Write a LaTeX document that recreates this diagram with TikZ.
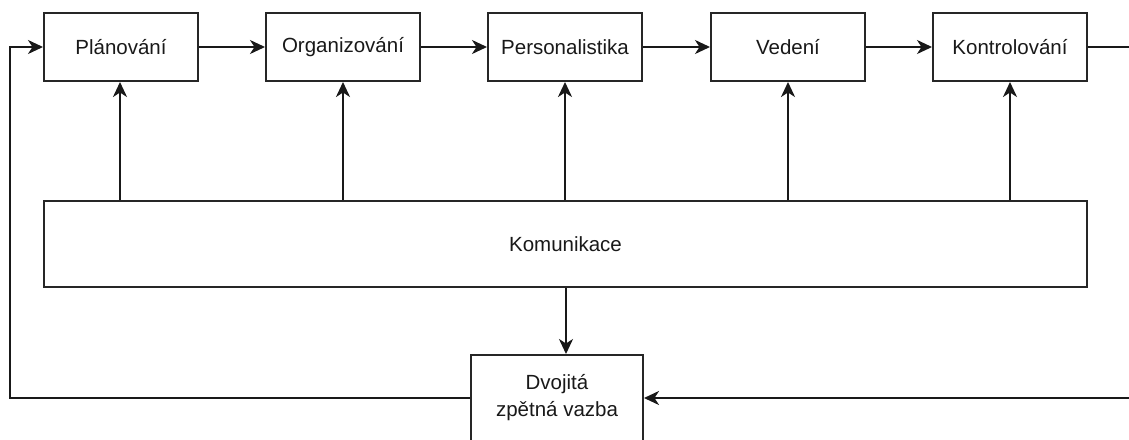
\documentclass[tikz,border=0pt]{standalone}
\usepackage{fontspec}
\setmainfont{Liberation Sans}
\usetikzlibrary{arrows.meta}
\begin{document}
\begin{tikzpicture}[x=1pt,y=-1pt,
  box/.style={draw=black!85, line width=2pt, fill=white, minimum width=154pt, minimum height=68pt, inner sep=0pt, font=\fontsize{20.5}{24}\selectfont, text=black!90},
  con/.style={draw=black!90, line width=2pt},
  arr/.style={con, -{Stealth[length=15pt,width=14pt,inset=4.5pt]}}]
\useasboundingbox (0,0) rectangle (1129,439);
\clip (0,0) rectangle (1129,439);
\node[box] (plan) at (121,47) {Plánování};
\node[box] (org) at (343,47) {Organizování};
\node[box] (pers) at (565,47) {Personalistika};
\node[box] (ved) at (788,47) {Vedení};
\node[box] (kon) at (1010,47) {Kontrolování};
\node[box, minimum width=1043pt, minimum height=86pt] (kom) at (565.5,244) {Komunikace};
\node[box, minimum width=172pt, minimum height=86pt, align=center, font=\fontsize{20.5}{27}\selectfont] (dv) at (557,398) {Dvojitá\\zpětná vazba};
\coordinate (lft) at (10,398);
\coordinate (rgt) at (1140,47);
\coordinate (rgtb) at (1140,398);
\draw[arr] (plan) -- (org);
\draw[arr] (org) -- (pers);
\draw[arr] (pers) -- (ved);
\draw[arr] (ved) -- (kon);
\draw[con] (kon) -- (rgt);
\draw[arr] (rgtb) -- (dv);
\draw[arr] (dv.west) -- (lft) |- (plan.west);
\draw[arr] (kom.north -| 120,0) -- (plan.south -| 120,0);
\draw[arr] (kom.north -| org.south) -- (org.south);
\draw[arr] (kom.north -| pers.south) -- (pers.south);
\draw[arr] (kom.north -| ved.south) -- (ved.south);
\draw[arr] (kom.north -| kon.south) -- (kon.south);
\draw[arr] (kom.south -| 566,0) -- (dv.north -| 566,0);
\end{tikzpicture}
\end{document}
